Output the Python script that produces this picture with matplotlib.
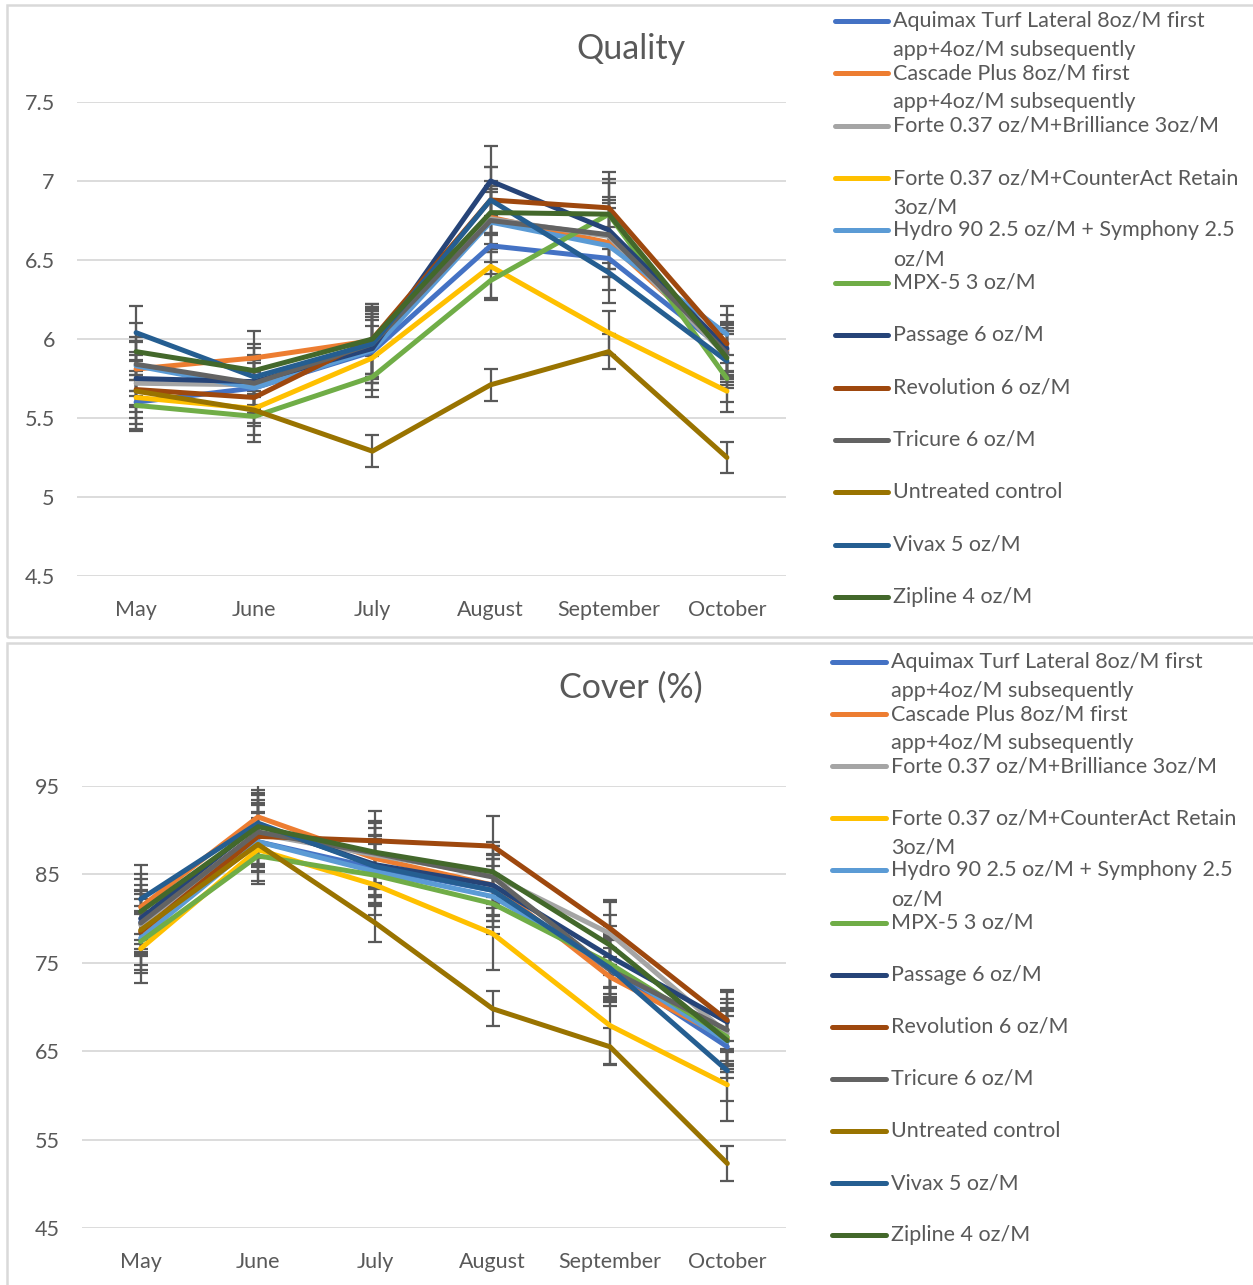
import matplotlib
matplotlib.use("Agg")
import matplotlib.pyplot as plt
from matplotlib.lines import Line2D
from matplotlib.patches import Rectangle

W, H = 1253, 1285
plt.rcParams['font.family'] = ['Lato', 'DejaVu Sans']
TXT = '#595959'

months = ['May', 'June', 'July', 'August', 'September', 'October']

labels = [
    'Aquimax Turf Lateral 8oz/M first\napp+4oz/M subsequently',
    'Cascade Plus 8oz/M first\napp+4oz/M subsequently',
    'Forte 0.37 oz/M+Brilliance 3oz/M',
    'Forte 0.37 oz/M+CounterAct Retain\n3oz/M',
    'Hydro 90 2.5 oz/M + Symphony 2.5\noz/M',
    'MPX-5 3 oz/M',
    'Passage 6 oz/M',
    'Revolution 6 oz/M',
    'Tricure 6 oz/M',
    'Untreated control',
    'Vivax 5 oz/M',
    'Zipline 4 oz/M',
]
colors = ['#4472C4', '#ED7D31', '#A5A5A5', '#FFC000', '#5B9BD5', '#70AD47',
          '#264478', '#9E480E', '#636363', '#997300', '#255E91', '#43682B']

# Quality ratings (May..October), one row per treatment
quality = [
    [5.60, 5.69, 5.92, 6.59, 6.51, 5.92],
    [5.81, 5.88, 5.99, 6.77, 6.61, 5.93],
    [5.72, 5.71, 5.96, 6.76, 6.65, 5.89],
    [5.63, 5.56, 5.88, 6.46, 6.04, 5.67],
    [5.83, 5.69, 5.93, 6.74, 6.59, 6.03],
    [5.58, 5.51, 5.76, 6.37, 6.79, 5.75],
    [5.75, 5.73, 5.94, 7.00, 6.69, 5.94],
    [5.68, 5.63, 6.00, 6.88, 6.83, 5.97],
    [5.84, 5.72, 5.97, 6.75, 6.66, 5.91],
    [5.67, 5.55, 5.29, 5.71, 5.92, 5.25],
    [6.04, 5.76, 5.97, 6.88, 6.42, 5.86],
    [5.92, 5.80, 6.00, 6.80, 6.79, 5.88],
]
quality_err = [
    [0.17, 0.16, 0.20, 0.18, 0.20, 0.17],
    [0.17, 0.17, 0.21, 0.20, 0.22, 0.17],
    [0.18, 0.16, 0.20, 0.19, 0.21, 0.16],
    [0.17, 0.17, 0.20, 0.20, 0.14, 0.13],
    [0.16, 0.18, 0.21, 0.19, 0.20, 0.18],
    [0.16, 0.16, 0.13, 0.12, 0.20, 0.15],
    [0.17, 0.17, 0.22, 0.22, 0.21, 0.17],
    [0.18, 0.16, 0.22, 0.21, 0.23, 0.18],
    [0.17, 0.17, 0.21, 0.20, 0.22, 0.16],
    [0.10, 0.10, 0.10, 0.10, 0.11, 0.10],
    [0.17, 0.18, 0.22, 0.21, 0.19, 0.17],
    [0.18, 0.17, 0.22, 0.20, 0.22, 0.17],
]

# Cover (%) (May..October), one row per treatment
cover = [
    [79.6, 88.7, 85.7, 83.2, 74.2, 65.5],
    [81.3, 91.5, 86.8, 83.8, 73.4, 66.4],
    [79.3, 89.6, 87.2, 84.9, 78.3, 67.0],
    [76.6, 87.8, 83.8, 78.3, 67.9, 61.2],
    [77.8, 88.7, 85.3, 82.5, 74.6, 66.1],
    [77.4, 87.1, 84.9, 81.7, 74.9, 66.6],
    [80.0, 90.6, 86.1, 83.8, 75.7, 68.3],
    [78.5, 89.3, 88.8, 88.2, 78.9, 68.5],
    [79.5, 89.8, 87.4, 84.7, 74.2, 67.4],
    [78.7, 88.4, 79.5, 69.8, 65.5, 52.3],
    [82.2, 90.8, 85.9, 83.2, 74.4, 62.8],
    [80.8, 90.4, 87.5, 85.3, 77.0, 66.2],
]
cover_err = [
    [3.6, 3.4, 3.3, 3.5, 3.4, 3.5],
    [3.7, 3.7, 3.5, 3.4, 3.3, 3.4],
    [3.5, 3.5, 3.6, 3.3, 3.6, 3.5],
    [3.9, 3.6, 3.4, 4.1, 4.4, 4.1],
    [3.6, 3.3, 3.5, 3.4, 3.5, 3.5],
    [3.5, 3.2, 3.5, 3.4, 3.4, 3.3],
    [3.8, 3.6, 3.4, 3.5, 3.5, 3.4],
    [3.7, 3.5, 3.4, 3.4, 3.2, 3.4],
    [3.6, 3.6, 3.5, 3.5, 3.6, 3.5],
    [2.1, 2.2, 2.1, 2.0, 2.1, 2.0],
    [3.9, 3.7, 3.4, 3.5, 3.5, 3.4],
    [3.7, 3.6, 3.5, 3.4, 3.4, 3.5],
]

fig = plt.figure(figsize=(W / 100, H / 100), dpi=100)


def px_axes(left, top, right, bottom):
    return fig.add_axes([left / W, 1 - bottom / H, (right - left) / W, (bottom - top) / H])


def frame(x0, y0, x1, y1):
    fig.add_artist(Rectangle((x0 / W, 1 - y1 / H), (x1 - x0) / W, (y1 - y0) / H,
                             transform=fig.transFigure, fill=False,
                             edgecolor='#D9D9D9', linewidth=1.8))


def draw_chart(ax, data, errs, ylim, yticks):
    x = range(len(months))
    for vals, err, c in zip(data, errs, colors):
        ax.errorbar(x, vals, yerr=err, color=c, linewidth=3.6,
                    ecolor='#595959', elinewidth=1.6, capsize=5, capthick=1.6,
                    solid_capstyle='round', solid_joinstyle='round')
    ax.set_xlim(-0.5, len(months) - 0.5)
    ax.set_ylim(*ylim)
    ax.set_yticks(yticks)
    ax.set_yticklabels([f'{v:g}' for v in yticks])
    ax.set_xticks(list(x))
    ax.set_xticklabels(months)
    ax.grid(axis='y', color='#D9D9D9', linewidth=1.3)
    ax.set_axisbelow(True)
    for s in ax.spines.values():
        s.set_visible(False)
    ax.tick_params(axis='both', length=0, labelsize=15.5, labelcolor=TXT)
    ax.tick_params(axis='y', pad=16)
    ax.tick_params(axis='x', pad=17)


def draw_legend(x0, x1, ytop, step):
    for i, (lab, c) in enumerate(zip(labels, colors)):
        y = ytop + i * step
        fig.add_artist(Line2D([x0 / W, x1 / W], [1 - y / H, 1 - y / H],
                              transform=fig.transFigure, color=c, linewidth=3.6,
                              solid_capstyle='round'))
        for k, line in enumerate(lab.split('\n')):
            fig.text((x1 + 5) / W, 1 - (y + k * 29) / H, line, fontsize=15.5,
                     color=TXT, ha='left', va='center')


# top panel: Quality
frame(7, 5, 1260, 637)
ax1 = px_axes(77, 102, 786, 576)
draw_chart(ax1, quality, quality_err, (4.5, 7.5), [4.5, 5, 5.5, 6, 6.5, 7, 7.5])
fig.text(631 / W, 1 - 49 / H, 'Quality', fontsize=24.5, color=TXT, ha='center', va='center')
draw_legend(835, 888, 21, 52.36)

# bottom panel: Cover
frame(7, 643, 1260, 1295)
ax2 = px_axes(82, 786, 786, 1228)
draw_chart(ax2, cover, cover_err, (45, 95), [45, 55, 65, 75, 85, 95])
fig.text(631 / W, 1 - 688 / H, 'Cover (%)', fontsize=24.5, color=TXT, ha='center', va='center')
draw_legend(832, 886, 662, 52.1)

fig.savefig('out.png', dpi=100)
